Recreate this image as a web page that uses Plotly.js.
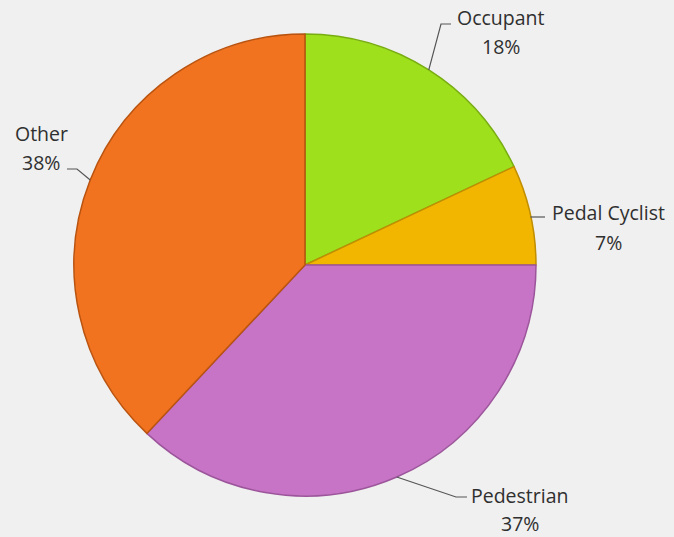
<!DOCTYPE html>
<html><head><meta charset="utf-8">
<script src="https://cdn.plot.ly/plotly-3.0.1.min.js"></script>
<style>html,body{margin:0;padding:0;background:#f0f0f0;}#chart{width:674px;height:537px;}</style>
</head><body><div id="chart"></div>
<script>
const categories = ["Occupant", "Pedal Cyclist", "Pedestrian", "Other"];
const values = [18, 7, 37, 38];
const colors = ["#9ee01c", "#f2b600", "#c774c6", "#f2731f"];
const lineColors = ["#78ad10", "#c08e00", "#9c559b", "#b9530f"];

const W = 674, H = 537, cx = 305, cy = 265, R = 231;
const px = x => x / W, py = y => 1 - y / H;

// label layout (pixel positions of text centres and leader elbows)
const labelPos = [
  {tx: 501, ty1: 17, ty2: 46, elbow: [441, 24], end: [451, 24]},
  {tx: 608, ty1: 213, ty2: 242, elbow: null, end: [545, 217]},
  {tx: 520, ty1: 495, ty2: 523, elbow: [456, 497], end: [467, 497]},
  {tx: 41, ty1: 133, ty2: 162, elbow: [77, 169], end: [67, 169]}
];

const total = values.reduce((a, b) => a + b, 0);
const shapes = [], annotations = [];
let acc = 0;
values.forEach((v, i) => {
  const mid = (acc + v / 2) / total * 2 * Math.PI; acc += v;
  const sx = cx + R * Math.sin(mid), sy = cy - R * Math.cos(mid);
  const L = labelPos[i];
  let path = `M ${px(sx)} ${py(sy)}`;
  if (L.elbow) path += ` L ${px(L.elbow[0])} ${py(L.elbow[1])}`;
  else path = `M ${px(sx)} ${py(L.end[1])}`;
  path += ` L ${px(L.end[0])} ${py(L.end[1])}`;
  shapes.push({type: 'path', xref: 'paper', yref: 'paper', path: path, line: {color: '#555555', width: 1.2}});
  const font = {family: 'Open Sans, sans-serif', size: 19.5, color: '#2f2f2f'};
  annotations.push({xref: 'paper', yref: 'paper', x: px(L.tx), y: py(L.ty1), text: categories[i], showarrow: false, xanchor: 'center', yanchor: 'middle', font: font});
  annotations.push({xref: 'paper', yref: 'paper', x: px(L.tx), y: py(L.ty2), text: Math.round(v / total * 100) + '%', showarrow: false, xanchor: 'center', yanchor: 'middle', font: font});
});

const trace = {
  type: 'pie', labels: categories, values: values, sort: false, direction: 'clockwise', rotation: 0,
  marker: {colors: colors, line: {color: lineColors, width: 1.5}},
  textinfo: 'none', hoverinfo: 'label+percent',
  domain: {x: [px(cx - R), px(cx + R)], y: [py(cy + R), py(cy - R)]}
};

Plotly.newPlot('chart', [trace], {
  width: W, height: H, margin: {l: 0, r: 0, t: 0, b: 0},
  paper_bgcolor: '#f0f0f0', plot_bgcolor: '#f0f0f0', showlegend: false,
  shapes: shapes, annotations: annotations
}, {displayModeBar: false, staticPlot: true});
</script></body></html>
